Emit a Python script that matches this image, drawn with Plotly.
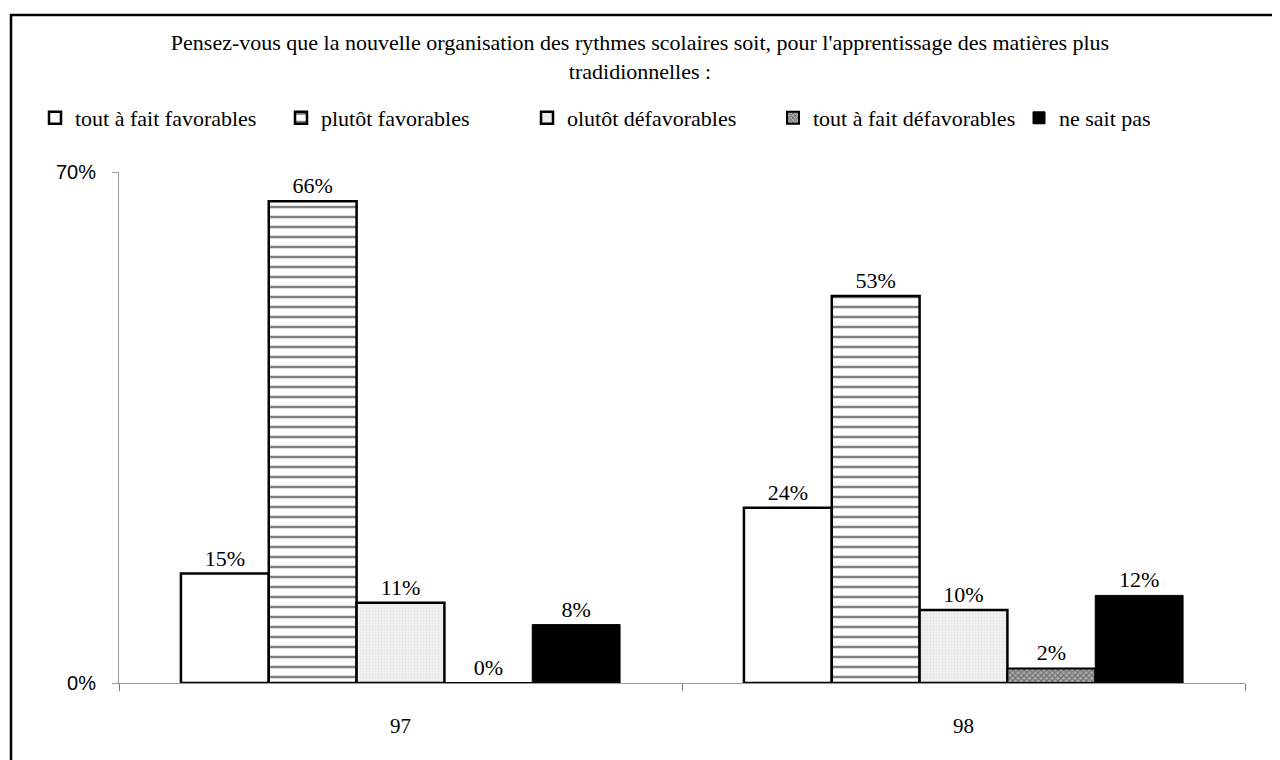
import plotly.graph_objects as go

categories = ["97", "98"]
series_names = ["tout à fait favorables", "plutôt favorables", "olutôt défavorables",
                "tout à fait défavorables", "ne sait pas"]
tout_fait_favorables = [15, 24]
plutot_favorables = [66, 53]
plutot_defavorables = [11, 10]
tout_fait_defavorables = [0, 2]
ne_sait_pas = [8, 12]
values = [tout_fait_favorables, plutot_favorables, plutot_defavorables,
          tout_fait_defavorables, ne_sait_pas]
y_tick_values = [0, 70]
y_tick_labels = ["0%", "70%"]

title_text = ("Pensez-vous que la nouvelle organisation des rythmes scolaires soit, pour l'apprentissage des matières plus"
              "<br>tradidionnelles :")

# the page body adds an 8px margin; coordinates below are page pixels
OFF = 8
W, H = 1280, 760
L, R, T, B = 119 - OFF, 1280 - (1245 - OFF), 172 - OFF, 760 - (683 - OFF)
pw, ph = W - L - R, H - T - B

def px_x(px):
    return (px - OFF - L) / pw

def px_y(py):
    return (H - B - (py - OFF)) / ph

serif = "Liberation Serif"

markers = [
    dict(color="white", line=dict(color="black", width=2.5)),
    dict(color="white", line=dict(color="black", width=2.5),
         pattern=dict(shape="-", fgcolor="black", bgcolor="white", size=10, solidity=0.25)),
    dict(color="#f0f0f0", line=dict(color="black", width=2.5),
         pattern=dict(shape=".", fgcolor="#d4d4d4", bgcolor="#f2f2f2", size=3, solidity=0.3)),
    dict(color="#555", line=dict(color="black", width=2),
         pattern=dict(shape="x", fgcolor="#222", bgcolor="#aaa", size=4, solidity=0.45)),
    dict(color="black", line=dict(color="black", width=1)),
]

fig = go.Figure()
for name, vals, mk in zip(series_names, values, markers):
    fig.add_trace(go.Bar(
        x=categories, y=vals, name=name, marker=mk,
        text=[f"{v}%" for v in vals], texttemplate="%{text}", textposition="outside",
        textfont=dict(family=serif, size=22, color="black"),
        cliponaxis=False,
    ))

fig.update_layout(
    width=W, height=H,
    margin=dict(l=L, r=R, t=T, b=B),
    paper_bgcolor="white", plot_bgcolor="white",
    barmode="group", bargap=0.22, bargroupgap=0,
    title=dict(text=title_text, x=(640 - OFF) / W, xref="container", xanchor="center",
               y=1 - 42 / H, yref="container", yanchor="top",
               font=dict(family=serif, size=22, color="black")),
    legend=dict(orientation="h", x=px_x(35), xanchor="left",
                y=px_y(118), yanchor="middle",
                entrywidth=201, entrywidthmode="pixels", itemwidth=30,
                font=dict(family=serif, size=22, color="black"),
                bgcolor="rgba(0,0,0,0)", traceorder="normal"),
    showlegend=True,
)

fig.update_yaxes(range=[0, 70], tickvals=y_tick_values, ticktext=y_tick_labels,
                 showgrid=False, zeroline=False, showline=True,
                 linecolor="#9a9a9a", linewidth=1, ticks="outside", ticklen=6,
                 tickcolor="#9a9a9a", ticklabelstandoff=12,
                 tickfont=dict(family="Liberation Sans", size=20, color="black"))
fig.update_xaxes(showgrid=False, showline=True, linecolor="#9a9a9a", linewidth=1,
                 ticks="outside", tickson="boundaries", ticklen=7, tickcolor="#777",
                 ticklabelstandoff=24,
                 tickfont=dict(family=serif, size=21, color="black"))

fig.add_shape(type="rect", xref="paper", yref="paper",
              x0=px_x(11), x1=px_x(1277), y0=px_y(790), y1=px_y(15),
              line=dict(color="black", width=2.5), fillcolor="rgba(0,0,0,0)", layer="above")

fig.write_html("out.html")
